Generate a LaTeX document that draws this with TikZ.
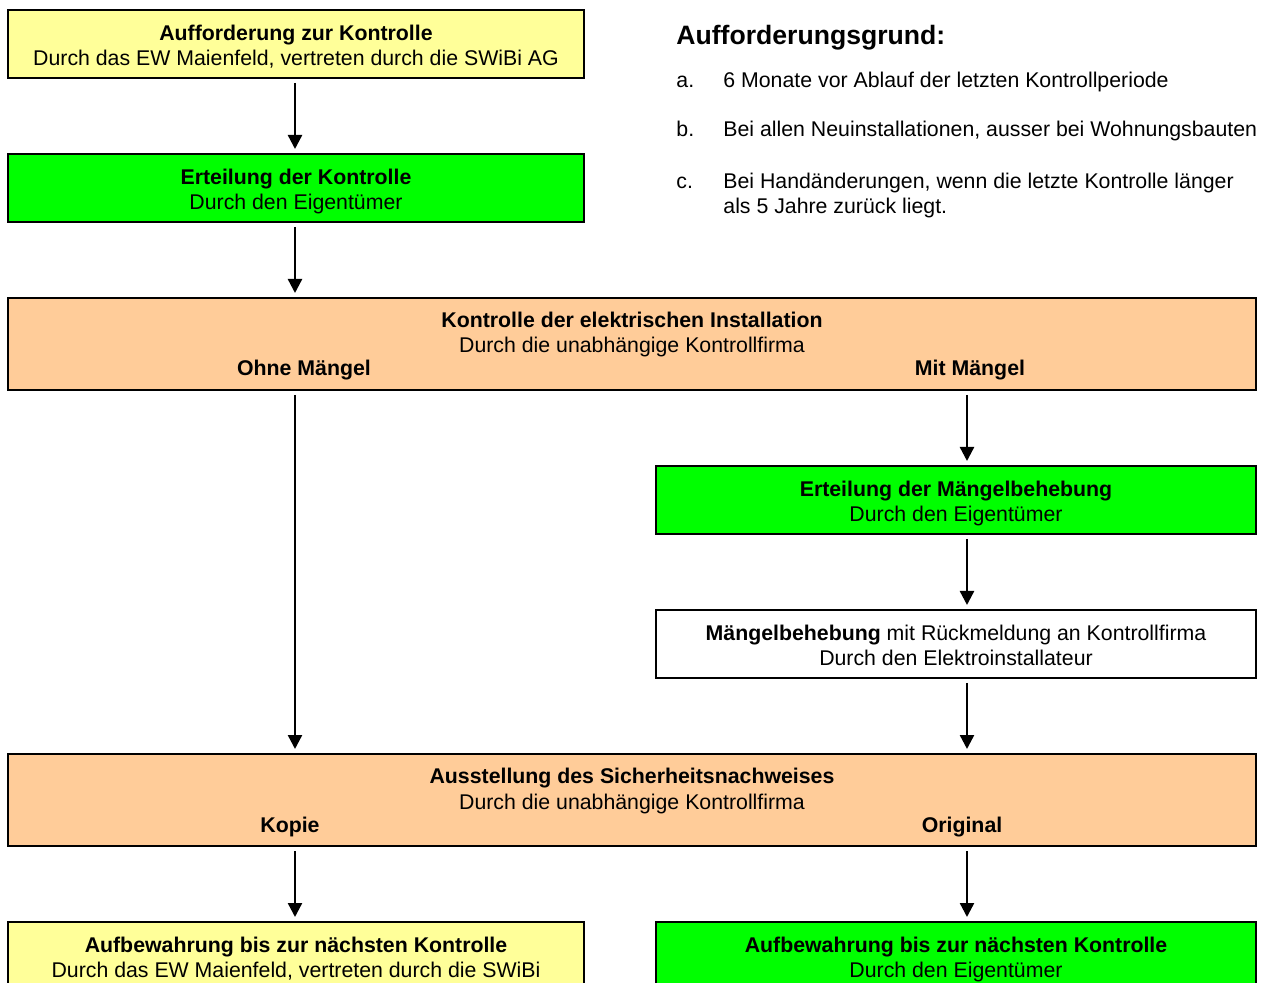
\documentclass[tikz,border=0pt]{standalone}
\usepackage{fontspec}
\setmainfont{Liberation Sans}
\usepackage{tikz}
\usetikzlibrary{arrows.meta}
\definecolor{paleyellow}{HTML}{FFFF99}
\definecolor{lightgreen}{HTML}{00FF00}
\definecolor{peach}{HTML}{FFCC99}
\newcommand{\boxstrut}{\rule{0pt}{12.75pt}}

\begin{document}
\begin{tikzpicture}[x=0.5pt,y=-0.5pt, every node/.style={font=\fontsize{10.65}{12.5}\selectfont}]
\tikzset{box/.style = {shape=rectangle,draw,line width=1pt,align=center,inner sep=0pt,minimum height=34pt}}
\tikzset{halfbox/.style = {box,minimum width=288pt}}
\tikzset{rbox/.style = {box,minimum width=300pt}}
\tikzset{widebox/.style = {box,minimum width=624pt,minimum height=46pt}}
\tikzset{txt/.style = {anchor=base west,inner sep=0pt}}
\tikzset{edge/.style = {line width=1.2pt,-{Triangle[length=7pt,width=7pt]},shorten <=2pt,shorten >=2pt}}
\useasboundingbox (0,0) rectangle (1264,983);
\coordinate (lc) at (295,0);
\coordinate (rc) at (967,0);
% left column
\node[halfbox,fill=paleyellow] (auff) at (296,44) {\boxstrut\textbf{Aufforderung zur Kontrolle}\\\strut Durch das EW Maienfeld, vertreten durch die SWiBi AG};
\node[halfbox,fill=lightgreen] (ert) at (296,188) {\boxstrut\textbf{Erteilung der Kontrolle}\\\strut Durch den Eigentümer};
% wide boxes
\node[widebox,fill=peach] (kontr) at (632,344) {\boxstrut\textbf{Kontrolle der elektrischen Installation}\\\strut Durch die unabhängige Kontrollfirma\\\strut};
\node[anchor=base] (ohne) at (304,376) {\textbf{Ohne Mängel}};
\node[anchor=base] (mit) at (970,376) {\textbf{Mit Mängel}};
\node[widebox,fill=peach] (aus) at (632,800) {\boxstrut\textbf{Ausstellung des Sicherheitsnachweises}\\\strut Durch die unabhängige Kontrollfirma\\\strut};
\node[anchor=base] (kopie) at (290,832) {\textbf{Kopie}};
\node[anchor=base] (orig) at (962,832) {\textbf{Original}};
% right column
\node[rbox,fill=lightgreen] (mert) at (956,500) {\boxstrut\textbf{Erteilung der Mängelbehebung}\\\strut Durch den Eigentümer};
\node[rbox,fill=white] (mbeh) at (956,644) {\boxstrut\textbf{Mängelbehebung} mit Rückmeldung an Kontrollfirma\\\strut Durch den Elektroinstallateur};
% bottom
\node[halfbox,fill=paleyellow] (aufbl) at (296,956) {\boxstrut\textbf{Aufbewahrung bis zur nächsten Kontrolle}\\\strut Durch das EW Maienfeld, vertreten durch die SWiBi};
\node[rbox,fill=lightgreen] (aufbr) at (956,956) {\boxstrut\textbf{Aufbewahrung bis zur nächsten Kontrolle}\\\strut Durch den Eigentümer};
% reasons
\node[txt,font=\fontsize{13.3}{16}\selectfont\bfseries] (grund) at (676,45) {Aufforderungsgrund:};
\node[txt] (la) at (676,88) {a.};
\node[txt] (ta) at (723,88) {6 Monate vor Ablauf der letzten Kontrollperiode};
\node[txt] (lb) at (676,137) {b.};
\node[txt] (tb) at (723,137) {Bei allen Neuinstallationen, ausser bei Wohnungsbauten};
\node[txt] (lcc) at (676,189) {c.};
\node[txt,align=left] (tc) at (723,214) {Bei Handänderungen, wenn die letzte Kontrolle länger\\als 5 Jahre zurück liegt.};
% edges
\draw[edge] (auff.south -| lc) -- (ert.north -| lc);
\draw[edge] (ert.south -| lc) -- (kontr.north -| lc);
\draw[edge] (kontr.south -| lc) -- (aus.north -| lc);
\draw[edge] (kontr.south -| rc) -- (mert.north -| rc);
\draw[edge] (mert.south -| rc) -- (mbeh.north -| rc);
\draw[edge] (mbeh.south -| rc) -- (aus.north -| rc);
\draw[edge] (aus.south -| lc) -- (aufbl.north -| lc);
\draw[edge] (aus.south -| rc) -- (aufbr.north -| rc);
\end{tikzpicture}
\end{document}
